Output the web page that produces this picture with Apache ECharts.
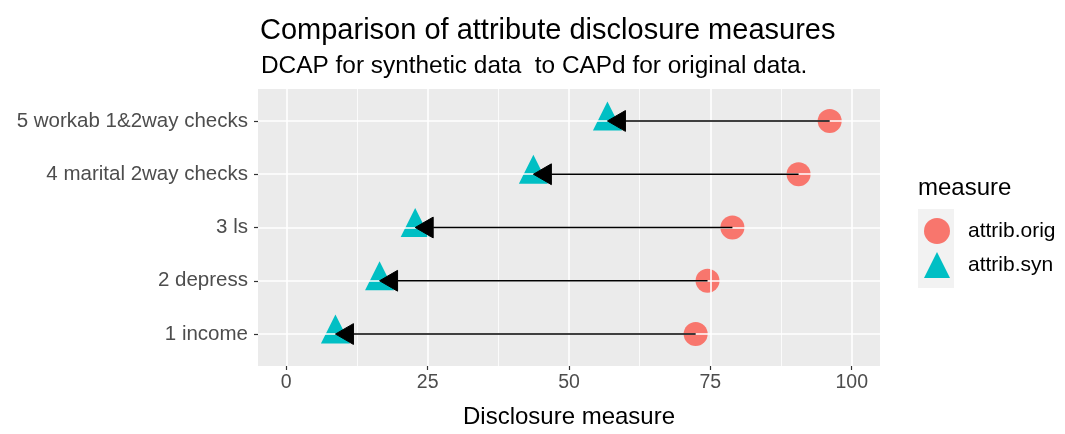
<!DOCTYPE html>
<html>
<head>
<meta charset="utf-8">
<script src="https://cdn.jsdelivr.net/npm/echarts@6/dist/echarts.min.js"></script>
<style>html,body{margin:0;padding:0;background:#fff}#c{width:1065px;height:434px}</style>
</head>
<body>
<div id="c"></div>
<script>
const categories = ['1 income', '2 depress', '3 ls', '4 marital 2way checks', '5 workab 1&2way checks'];
const attribOrig = [72.4, 74.5, 78.9, 90.6, 96.1];
const attribSyn = [8.7, 16.5, 22.8, 43.7, 56.8];
const xTicks = [0, 25, 50, 75, 100];
const xMinor = [12.5, 37.5, 62.5, 87.5];

const font = 'Liberation Sans, Arial, sans-serif';
const chart = echarts.init(document.getElementById('c'));

const origData = attribOrig.map((v, i) => [v, i + 1]);
const synData = attribSyn.map((v, i) => [v, i + 1]);
const arrowData = attribOrig.map((v, i) => [v, attribSyn[i], i + 1]);
const yPos = categories.map((c, i) => i + 1);

chart.setOption({
  animation: false,
  title: [
    { text: 'Comparison of attribute disclosure measures', left: 255, top: 11,
      textStyle: { fontFamily: font, fontSize: 29, fontWeight: 'normal', color: '#000' } },
    { text: 'DCAP for synthetic data  to CAPd for original data.', left: 256, top: 49,
      textStyle: { fontFamily: font, fontSize: 24.4, fontWeight: 'normal', color: '#000' } }
  ],
  grid: { left: 258, right: 185, top: 89, bottom: 67, show: true, backgroundColor: '#EBEBEB', borderWidth: 0 },
  xAxis: {
    type: 'value', min: -5, max: 105,
    name: 'Disclosure measure', nameLocation: 'middle', nameGap: 39,
    nameTextStyle: { fontFamily: font, fontSize: 24, color: '#000' },
    axisLine: { show: false, onZero: false },
    axisTick: { show: true, length: 4, customValues: xTicks, lineStyle: { color: '#333', width: 1.2 } },
    axisLabel: { customValues: xTicks, fontFamily: font, fontSize: 19.5, color: '#4D4D4D', margin: 7 },
    splitLine: { show: false }
  },
  yAxis: {
    type: 'value', min: 0.4, max: 5.6,
    axisLine: { show: false, onZero: false },
    axisTick: { show: true, length: 4, customValues: yPos, lineStyle: { color: '#333', width: 1.2 } },
    axisLabel: { customValues: yPos, fontFamily: font, fontSize: 20.5, color: '#4D4D4D', margin: 10,
      formatter: v => categories[Math.round(v) - 1] },
    splitLine: { show: false }
  },
  legend: {
    orient: 'vertical', left: 924, top: 218, itemGap: 8, itemWidth: 26, itemHeight: 26,
    padding: 0, symbolKeepAspect: true,
    textStyle: { fontFamily: font, fontSize: 21, color: '#000', padding: [3, 0, 0, 13] },
    data: [
      { name: 'attrib.orig', icon: 'circle' },
      { name: 'attrib.syn', icon: 'path://M14.5,0 L29,29 L0,29 Z' }
    ]
  },
  graphic: [
    { type: 'rect', left: 918, top: 209, shape: { width: 36, height: 79 }, style: { fill: '#F2F2F2' }, z: -1 },
    { type: 'text', left: 918, top: 176, style: { text: 'measure', fontFamily: font, fontSize: 24, fill: '#000' } }
  ],
  series: [
    {
      type: 'line', data: [], silent: true, z: 0,
      markLine: {
        silent: true, symbol: 'none', label: { show: false }, animation: false,
        data: [
          ...xMinor.map(v => ({ xAxis: v, lineStyle: { color: '#fff', width: 0.8, type: 'solid' } })),
          ...xTicks.map(v => ({ xAxis: v, lineStyle: { color: '#fff', width: 1.6, type: 'solid' } })),
          ...yPos.map(v => ({ yAxis: v, lineStyle: { color: '#fff', width: 1.6, type: 'solid' } }))
        ]
      }
    },
    {
      name: 'attrib.orig', type: 'scatter', data: origData, symbol: 'circle', symbolSize: 24,
      itemStyle: { color: '#F8766D', opacity: 1 }, z: 2
    },
    {
      name: 'attrib.syn', type: 'scatter', data: synData, symbol: 'triangle', symbolSize: [29, 29],
      symbolOffset: [0, -5],
      itemStyle: { color: '#00BFC4', opacity: 1 }, z: 3
    },
    {
      type: 'custom', data: arrowData, z: 5, silent: true,
      encode: { x: [0, 1], y: 2 },
      renderItem: (params, api) => {
        const p0 = api.coord([api.value(0), api.value(2)]);
        const p1 = api.coord([api.value(1), api.value(2)]);
        const len = 18, hw = 10.4;
        const dir = p1[0] < p0[0] ? 1 : -1;
        const back = p1[0] + dir * len;
        return {
          type: 'group',
          children: [
            { type: 'line', shape: { x1: p0[0], y1: p0[1], x2: back, y2: p1[1] },
              style: { stroke: '#000', lineWidth: 1.6 } },
            { type: 'polygon', shape: { points: [[p1[0], p1[1]], [back, p1[1] - hw], [back, p1[1] + hw]] },
              style: { fill: '#000', stroke: '#000', lineWidth: 1 } }
          ]
        };
      }
    }
  ]
});
</script>
</body>
</html>
